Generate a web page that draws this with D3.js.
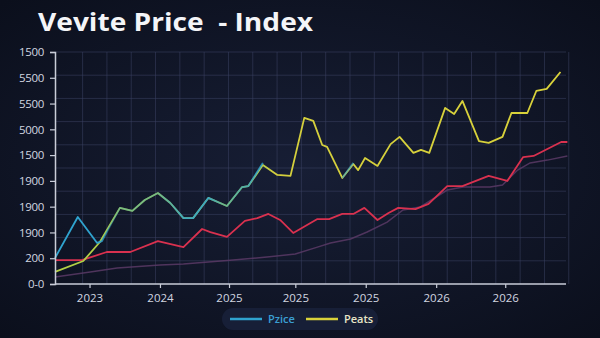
<!DOCTYPE html>
<html><head><meta charset="utf-8">
<script src="https://cdn.jsdelivr.net/npm/d3@7"></script>
<style>
html,body{margin:0;padding:0;background:#0d1322;}
svg{display:block;}
</style></head>
<body>
<svg id="chart" width="600" height="338"></svg>
<script>
// ---- data ----
const title = "Vevite Price  - Index";
const yTickLabels = ["0-0","200","1900","1900","1900","1500","5000","5500","5500","1500"];
const xTickLabels = ["2023","2024","2025","2025","2025","2026","2026"];
const xTickValues = [0.5,1.52,2.52,3.48,4.5,5.52,6.52];
const legendLabels = ["Pzice","Peats"];

const priceT = [0,0.33,0.61,0.68,0.94,1.12,1.30,1.49,1.67,1.86,2.00,2.22,2.49,2.71,2.80,3.01,3.3,4.16,4.32];
const priceV = [1.12,2.89,1.77,1.85,3.28,3.15,3.62,3.92,3.49,2.84,2.84,3.71,3.36,4.18,4.22,5.22,null,4.57,5.22];

const peatsT = [0,0.41,0.65,0.94,1.12,1.30,1.49,1.67,1.86,2.00,2.22,2.49,2.71,2.80,3.01,3.22,3.41,3.61,3.74,3.87,3.94,4.16,4.32,4.39,4.49,4.67,4.86,4.99,5.19,5.30,5.42,5.65,5.78,5.90,6.14,6.28,6.48,6.61,6.84,6.97,7.12,7.32];
const peatsV = [0.52,0.99,1.81,3.28,3.15,3.62,3.92,3.49,2.84,2.84,3.71,3.36,4.18,4.22,5.13,4.70,4.66,7.16,7.03,5.99,5.91,4.57,5.17,4.91,5.43,5.09,6.03,6.34,5.65,5.78,5.65,7.59,7.33,7.89,6.16,6.08,6.34,7.37,7.37,8.32,8.41,9.14];

const redT = [0,0.39,0.75,1.09,1.49,1.86,2.13,2.25,2.49,2.75,2.93,3.09,3.26,3.45,3.80,3.97,4.16,4.32,4.48,4.67,4.83,4.97,5.22,5.41,5.68,5.90,6.28,6.55,6.78,6.93,7.33,7.42];
const redV = [1.03,1.03,1.38,1.38,1.85,1.59,2.37,2.24,2.03,2.72,2.84,3.02,2.76,2.20,2.80,2.80,3.02,3.02,3.28,2.76,3.06,3.28,3.23,3.45,4.22,4.22,4.66,4.44,5.47,5.52,6.12,6.12];

const purpleT = [0,0.51,0.90,1.52,1.86,2.58,3.07,3.48,3.80,3.99,4.28,4.52,4.81,5.04,5.29,5.68,5.91,6.30,6.48,6.70,6.88,7.13,7.42];
const purpleV = [0.30,0.52,0.69,0.82,0.86,1.03,1.16,1.29,1.59,1.77,1.94,2.24,2.67,3.19,3.32,4.05,4.18,4.18,4.27,4.91,5.22,5.34,5.52];

// ---- layout ----
const W = 600, H = 338;
const m = {l:55, r:34, t:52, b:54};
const svg = d3.select("#chart");
const x = d3.scaleLinear().domain([0,7.4]).range([m.l, W-m.r]);
const y = d3.scaleLinear().domain([0,10]).range([H-m.b, m.t]);
const yTick = d3.scaleLinear().domain([0,9]).range([H-m.b, m.t]);

const defs = svg.append("defs");
const bg = defs.append("radialGradient").attr("id","bg").attr("cx","50%").attr("cy","50%").attr("r","70%");
bg.append("stop").attr("offset","0%").attr("stop-color","#171e35");
bg.append("stop").attr("offset","100%").attr("stop-color","#0b0f1c");
svg.append("rect").attr("width",W).attr("height",H).attr("fill","url(#bg)");

// peats gradient (green on left, yellow on right)
const pg = defs.append("linearGradient").attr("id","peatsGrad").attr("gradientUnits","userSpaceOnUse")
  .attr("x1",x(0)).attr("x2",x(7.4)).attr("y1",0).attr("y2",0);
[[0,"#b4d044"],[0.38,"#9fcb52"],[0.43,"#d4cf3c"],[1,"#d9d23a"]].forEach(s=>
  pg.append("stop").attr("offset",s[0]).attr("stop-color",s[1]));
const bgGrad = defs.append("linearGradient").attr("id","priceGrad").attr("gradientUnits","userSpaceOnUse")
  .attr("x1",x(0)).attr("x2",x(7.4)).attr("y1",0).attr("y2",0);
[[0,1],[0.085,1],[0.11,0.4],[0.2,0.4],[0.25,0.85],[0.3,0.9],[0.33,0.45],[0.4,0.85],[0.45,0.6],[1,0.6]].forEach(s=>
  bgGrad.append("stop").attr("offset",s[0]).attr("stop-color","#2fa3cf").attr("stop-opacity",s[1]));

// grid
const g = svg.append("g");
const vGrid = d3.range(0.4, 7.45, 0.352);
g.selectAll(".vg").data(vGrid).join("line")
  .attr("x1",d=>x(d)).attr("x2",d=>x(d)).attr("y1",y(10)).attr("y2",y(0))
  .attr("stroke","#3a4262").attr("stroke-opacity",0.55).attr("stroke-width",1);
g.selectAll(".hg").data(d3.range(1,11)).join("line")
  .attr("x1",x(0)).attr("x2",x(7.4)).attr("y1",d=>y(d)).attr("y2",d=>y(d))
  .attr("stroke","#3a4262").attr("stroke-opacity",0.55).attr("stroke-width",1);

// lines
function series(T,V){ return T.map((t,i)=>({t, v:V[i]})); }
const line = d3.line().defined(d=>d.v!==null).x(d=>x(d.t)).y(d=>y(d.v));
svg.append("path").datum(series(purpleT,purpleV)).attr("d",line)
  .attr("fill","none").attr("stroke","#5b3a66").attr("stroke-width",1.5).attr("stroke-opacity",0.85);
svg.append("path").datum(series(redT,redV)).attr("d",line)
  .attr("fill","none").attr("stroke","#d9314f").attr("stroke-width",1.8).attr("stroke-linejoin","round");
svg.append("path").datum(series(peatsT,peatsV)).attr("d",line)
  .attr("fill","none").attr("stroke","url(#peatsGrad)").attr("stroke-width",1.8).attr("stroke-linejoin","round");
svg.append("path").datum(series(priceT,priceV)).attr("d",line)
  .attr("fill","none").attr("stroke","url(#priceGrad)").attr("stroke-width",1.8).attr("stroke-linejoin","round");

// axes
const xAxis = svg.append("g").attr("transform",`translate(0,${y(0)})`)
  .call(d3.axisBottom(x).tickValues(xTickValues).tickFormat((d,i)=>xTickLabels[i]).tickSize(4).tickPadding(6));
xAxis.select(".domain").attr("d",`M${x(0)},0H${x(7.4)}`);
const yAxis = svg.append("g").attr("transform",`translate(${x(0)},0)`)
  .call(d3.axisLeft(yTick).tickValues(d3.range(0,10)).tickFormat(d=>yTickLabels[d]).tickSize(5).tickPadding(6));
[xAxis,yAxis].forEach(a=>{
  a.selectAll(".domain").attr("stroke","#c9cdd8").attr("stroke-width",1.5);
  a.selectAll(".tick line").attr("stroke","#c9cdd8").attr("stroke-width",1.2);
  a.selectAll("text").attr("fill","#d2d6e0").attr("font-family","'Open Sans', sans-serif").attr("font-size",11.5);
});
yAxis.selectAll("text").attr("letter-spacing","-0.3");

// title
svg.append("text").attr("x",38).attr("y",31).text(title)
  .attr("style","white-space:pre")
  .attr("fill","#f4f5f8").attr("font-family","'Open Sans', sans-serif").attr("font-weight",700).attr("font-size",25)
  .attr("textLength",275).attr("lengthAdjust","spacingAndGlyphs");

// legend
const lg = svg.append("g");
lg.append("rect").attr("x",222).attr("y",308).attr("width",156).attr("height",22).attr("rx",11)
  .attr("fill","#18203a").attr("fill-opacity",0.9);
const legendColors = ["#2fa3cf","#d9d23a"];
const legendText = ["#3b9fd4","#e8e6c8"];
const lx = [230,306];
legendLabels.forEach((lab,i)=>{
  lg.append("line").attr("x1",lx[i]).attr("x2",lx[i]+32).attr("y1",319).attr("y2",319)
    .attr("stroke",legendColors[i]).attr("stroke-width",2.5);
  lg.append("text").attr("x",lx[i]+38).attr("y",323).text(lab)
    .attr("fill",legendText[i]).attr("font-family","'Open Sans', sans-serif").attr("font-size",11).attr("font-weight",600);
});
</script>
</body></html>
